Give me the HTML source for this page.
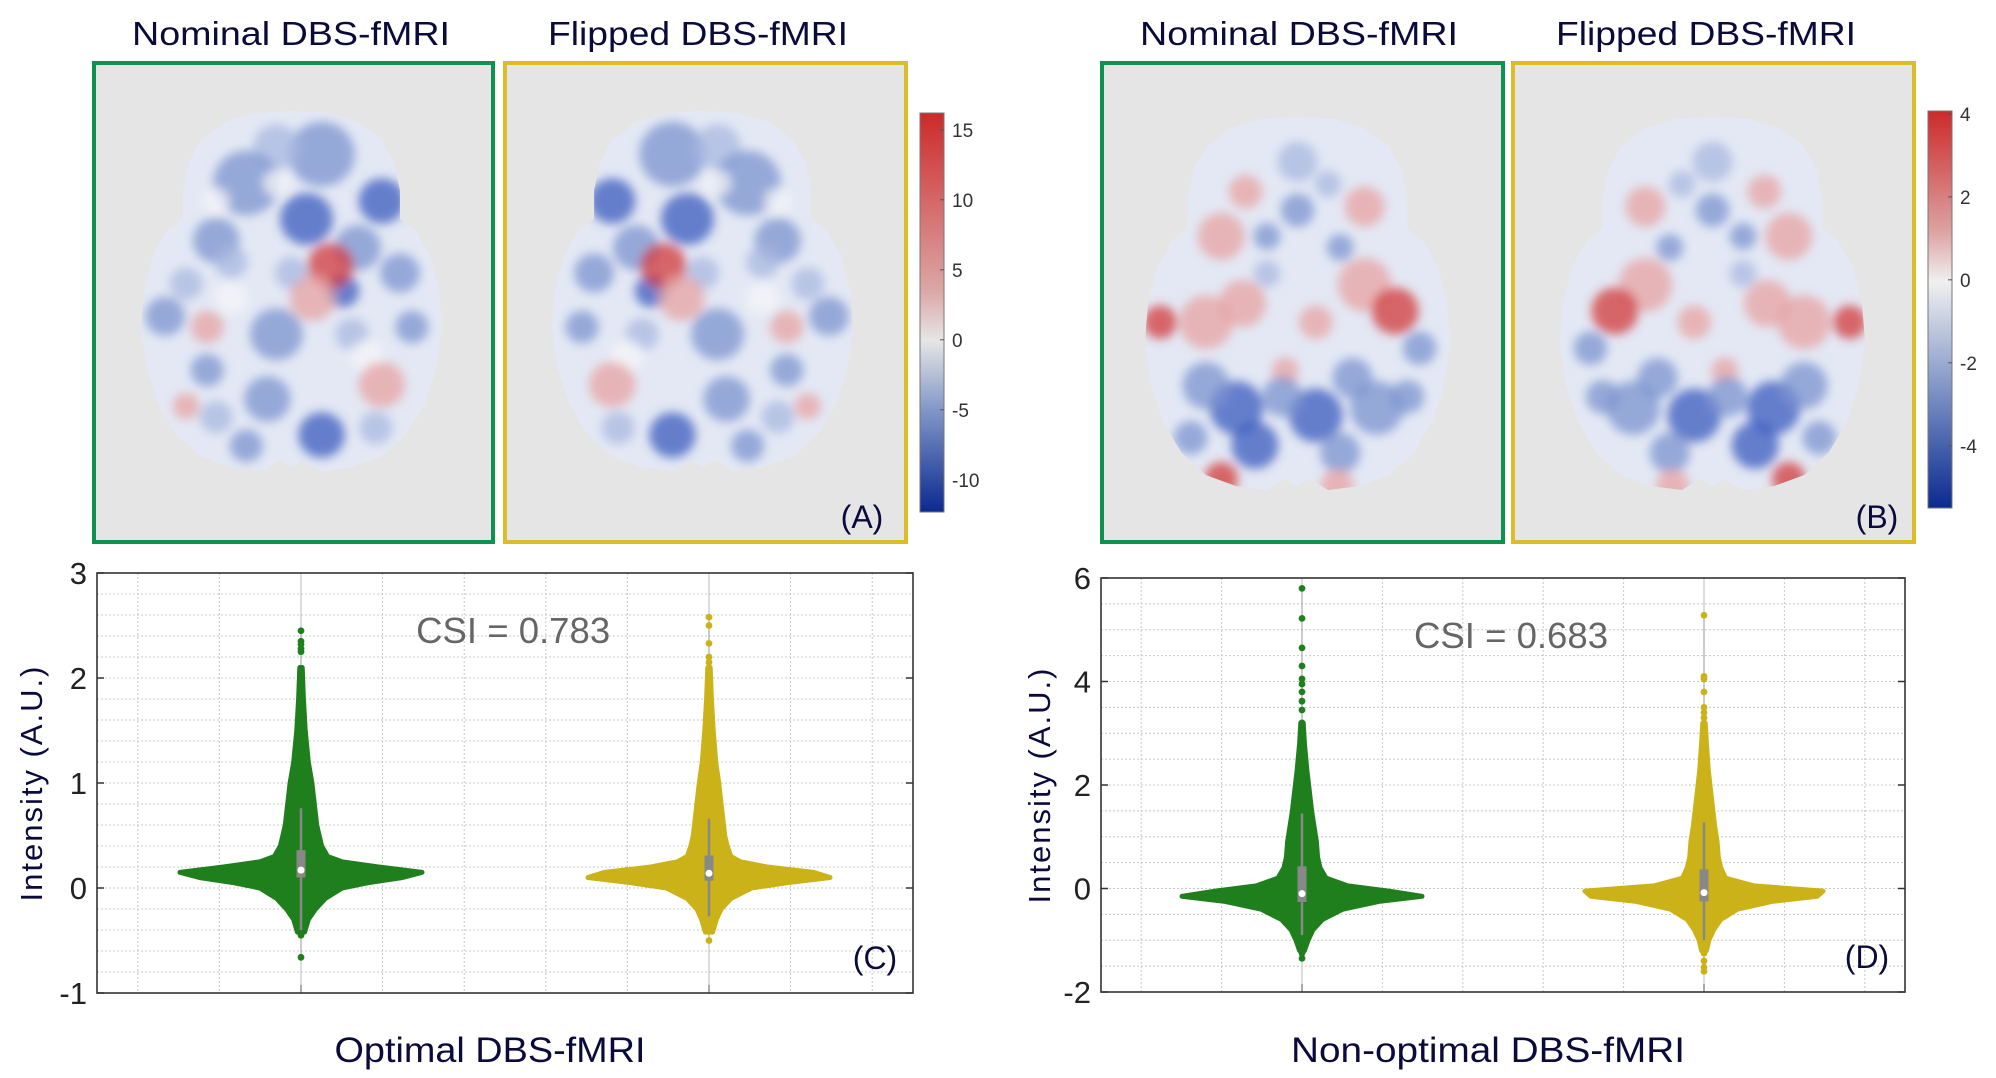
<!DOCTYPE html>
<html><head><meta charset="utf-8"><style>
html,body{margin:0;padding:0;background:#fff;}
svg{display:block;font-family:"Liberation Sans",sans-serif;}
</style></head><body>
<svg id="root" width="1996" height="1078" viewBox="0 0 1996 1078">
<defs>
<filter id="blur" x="-50%" y="-50%" width="200%" height="200%"><feGaussianBlur stdDeviation="5"/></filter>
<linearGradient id="cmapA" x1="0" y1="0" x2="0" y2="1">
<stop offset="0" stop-color="#cc2a2a"/><stop offset="0.45" stop-color="#dca8a8"/><stop offset="0.57" stop-color="#e6e6e6"/><stop offset="0.75" stop-color="#7f94c6"/><stop offset="1" stop-color="#0a2a8f"/></linearGradient>
<linearGradient id="cmapB" x1="0" y1="0" x2="0" y2="1">
<stop offset="0" stop-color="#cc2a2a"/><stop offset="0.3" stop-color="#dca0a0"/><stop offset="0.43" stop-color="#f0f0f0"/><stop offset="0.7" stop-color="#7f94c6"/><stop offset="1" stop-color="#0a2a8f"/></linearGradient>
</defs>
<g id="titles" fill="#0b0b3b" font-size="33" text-anchor="middle">
<text x="291" y="45" textLength="318" lengthAdjust="spacingAndGlyphs">Nominal DBS-fMRI</text>
<text x="698" y="45" textLength="300" lengthAdjust="spacingAndGlyphs">Flipped DBS-fMRI</text>
<text x="1299" y="45" textLength="318" lengthAdjust="spacingAndGlyphs">Nominal DBS-fMRI</text>
<text x="1706" y="45" textLength="300" lengthAdjust="spacingAndGlyphs">Flipped DBS-fMRI</text>
</g>
<g id="maps"></g>
<g id="chartC"></g>
<g id="chartD"></g>
</svg>
<script>
// ---------- chart data ----------
const categories = ["Nominal DBS-fMRI", "Flipped DBS-fMRI"];
const ticksC = [3, 2, 1, 0, -1];
const ticksD = [6, 4, 2, 0, -2];
// violin profiles: values and relative half-widths
const profYC = [-0.42,-0.3,-0.2,-0.1,0,0.05,0.1,0.15,0.2,0.25,0.3,0.4,0.5,0.6,0.8,1.0,1.2,1.5,1.8,2.1];
const profWCg = [0.03,0.06,0.12,0.2,0.34,0.55,0.84,1.0,0.64,0.34,0.22,0.17,0.15,0.13,0.11,0.09,0.06,0.035,0.02,0.01];
const profWCy = [0.03,0.06,0.1,0.18,0.35,0.64,1.0,0.86,0.48,0.26,0.18,0.15,0.13,0.12,0.1,0.08,0.055,0.035,0.02,0.01];
const profYD = [-1.2,-1.0,-0.8,-0.6,-0.4,-0.25,-0.15,-0.05,0.05,0.2,0.4,0.6,0.9,1.2,1.5,1.9,2.3,2.8,3.2];
const profWDg = [0.02,0.05,0.09,0.17,0.34,0.64,1.0,0.72,0.38,0.2,0.15,0.13,0.12,0.1,0.08,0.06,0.04,0.02,0.01];
const profWDy = [0.02,0.04,0.08,0.14,0.28,0.57,0.95,1.0,0.42,0.18,0.14,0.12,0.11,0.09,0.075,0.055,0.035,0.02,0.01];
// outlier points
const ptsCg = [2.45,2.35,2.32,2.28,2.25,2.05,1.97,1.92,1.85,1.78,1.72,1.65,1.58,1.52,1.45,1.38,1.32,-0.4,-0.45,-0.66];
const ptsCy = [2.58,2.5,2.33,2.2,2.15,2.1,2.0,1.9,1.85,1.8,1.72,1.62,1.55,1.48,1.4,1.33,-0.32,-0.38,-0.5];
const ptsDg = [5.8,5.22,4.65,4.3,4.05,3.95,3.8,3.62,3.45,3.2,3.05,2.95,2.85,2.7,2.6,2.5,2.4,-1.0,-1.15,-1.25,-1.35];
const ptsDy = [5.28,4.1,4.05,3.8,3.5,3.4,3.3,3.2,3.1,2.95,2.8,2.7,2.6,-1.1,-1.25,-1.4,-1.52,-1.6];
// box stats [whiskerLo, q1, median, q3, whiskerHi]
const boxCg = [-0.4,0.1,0.17,0.36,0.76];
const boxCy = [-0.27,0.07,0.14,0.31,0.66];
const boxDg = [-0.9,-0.26,-0.1,0.43,1.45];
const boxDy = [-1.0,-0.25,-0.08,0.37,1.28];
const csiValues = ["0.783", "0.683"];
const cbTicksA = [15,10,5,0,-5,-10];
const cbTicksB = [4,2,0,-2,-4];

const NS = "http://www.w3.org/2000/svg";
function mk(parent, tag, attrs, text){
  const e = document.createElementNS(NS, tag);
  for (const k in attrs) e.setAttribute(k, attrs[k]);
  if (text !== undefined) e.textContent = text;
  parent.appendChild(e);
  return e;
}

// ---------- brain maps ----------
const brainOutline = [[0.5,0],[0.62,0.005],[0.72,0.03],[0.8,0.08],[0.84,0.14],[0.86,0.22],[0.86,0.3],[0.91,0.33],[0.96,0.4],[0.99,0.5],[1,0.6],[0.98,0.72],[0.94,0.82],[0.88,0.9],[0.8,0.96],[0.7,0.99],[0.6,1],[0.54,0.97],[0.5,0.99],[0.46,0.97],[0.4,1],[0.3,0.99],[0.2,0.96],[0.12,0.9],[0.06,0.82],[0.02,0.72],[0,0.6],[0.01,0.5],[0.04,0.4],[0.09,0.33],[0.14,0.3],[0.14,0.22],[0.16,0.14],[0.2,0.08],[0.28,0.03],[0.38,0.005]];
const B1="#3a5cbf",B2="#7b93cf",B3="#aab8e0",R1="#d23a3a",R2="#e7a3a3",W="#f6f6f8";
const blobsA = [[0.6,0.12,0.1,B2],[0.45,0.1,0.07,B3],[0.8,0.25,0.07,B1],[0.35,0.2,0.1,B2],[0.55,0.3,0.08,B1],[0.25,0.36,0.07,B2],[0.72,0.38,0.07,B2],[0.45,0.62,0.08,B2],[0.67,0.5,0.05,B1],[0.86,0.45,0.06,B2],[0.08,0.57,0.06,B2],[0.42,0.8,0.07,B2],[0.6,0.9,0.07,B1],[0.35,0.93,0.05,B2],[0.9,0.6,0.05,B2],[0.22,0.72,0.05,B2],[0.3,0.42,0.05,B3],[0.5,0.45,0.05,B3],[0.7,0.62,0.05,B3],[0.15,0.48,0.05,B3],[0.78,0.88,0.05,B3],[0.25,0.85,0.05,B3],[0.45,0.2,0.04,W],[0.25,0.25,0.04,W],[0.3,0.52,0.05,W],[0.75,0.68,0.05,W],[0.63,0.43,0.07,R1],[0.57,0.52,0.07,R2],[0.22,0.6,0.05,R2],[0.8,0.76,0.07,R2],[0.15,0.82,0.04,R2]];
const blobsB = [[0.25,0.32,0.07,R2],[0.72,0.24,0.06,R2],[0.2,0.55,0.08,R2],[0.05,0.55,0.05,R1],[0.32,0.5,0.07,R2],[0.72,0.45,0.08,R2],[0.82,0.52,0.07,R1],[0.56,0.55,0.05,R2],[0.33,0.2,0.05,R2],[0.46,0.68,0.04,R2],[0.5,0.25,0.05,B2],[0.4,0.32,0.04,B2],[0.64,0.35,0.04,B2],[0.9,0.62,0.05,B2],[0.3,0.78,0.08,B1],[0.56,0.8,0.08,B1],[0.76,0.78,0.08,B2],[0.2,0.72,0.07,B2],[0.36,0.88,0.07,B1],[0.64,0.9,0.06,B2],[0.15,0.86,0.05,B2],[0.86,0.75,0.05,B2],[0.45,0.75,0.06,B2],[0.68,0.7,0.06,B2],[0.25,0.97,0.05,R1],[0.63,0.99,0.05,R2],[0.5,0.12,0.06,B3],[0.6,0.18,0.04,B3],[0.4,0.42,0.04,B3]];

const maps = document.getElementById("maps");
let clipId = 0;
function drawPanel(x, y, w, h, color, bx, by, bw, bh, blobs, mirror, nm){
  const g = mk(maps, "g", {});
  
  
  const frame = mk(g, "rect", {x:x, y:y, width:w, height:h, fill:"#e5e5e5", stroke:color, "stroke-width":4});
  
  
  const pts = brainOutline.map(p => ((bx + (mirror ? 1-p[0] : p[0])*bw).toFixed(1)) + "," + (by + p[1]*bh).toFixed(1)).join(" ");
  const id = "clip" + (clipId++);
  const cp = mk(document.querySelector("defs"), "clipPath", {id:id});
  mk(cp, "polygon", {points:pts});
  const brain = mk(g, "g", {"clip-path":"url(#"+id+")"});
  
  
  mk(brain, "polygon", {points:pts, fill:"#e3e8f4"});
  const bl = mk(brain, "g", {filter:"url(#blur)"});
  blobs.forEach(b => {
    const cx = bx + (mirror ? 1-b[0] : b[0])*bw, cy = by + b[1]*bh;
    mk(bl, "ellipse", {cx:cx, cy:cy, rx:b[2]*bw*1.1, ry:b[2]*bh*0.9, fill:b[3], opacity:0.75});
  });
}
drawPanel(94,63,399,479,"#0f9150",141,111,301,360,blobsA,false,"map-a-nominal");
drawPanel(505,63,401,479,"#dcbd27",552,111,301,360,blobsA,true,"map-a-flipped");
drawPanel(1102,63,401,479,"#0f9150",1145,117,305,373,blobsB,false,"map-b-nominal");
drawPanel(1513,63,401,479,"#dcbd27",1560,117,305,373,blobsB,true,"map-b-flipped");

function colorbar(x, y0, y1, grad, ticks, vTop, vBot, nm){
  const g = mk(maps, "g", {});
  
  
  mk(g, "rect", {x:x, y:y0, width:24, height:y1-y0, fill:"url(#"+grad+")", stroke:"#777", "stroke-width":1});
  ticks.forEach(t => {
    const ty = y0 + (vTop - t)/(vTop - vBot)*(y1-y0);
    mk(g, "line", {x1:x+20, x2:x+24, y1:ty, y2:ty, stroke:"#555"});
    const lb = mk(g, "text", {x:x+32, y:ty+7, "font-size":19, fill:"#333"}, String(t));
    
    
  });
}
colorbar(920,113,512,"cmapA",cbTicksA,16.2,-12.3,"colorbar-a");
colorbar(1928,111,508,"cmapB",cbTicksB,4.07,-5.5,"colorbar-b");

const la = mk(maps,"text",{x:862,y:528,"font-size":32,fill:"#0b0b3b","text-anchor":"middle"},"(A)");


const lbB = mk(maps,"text",{x:1877,y:528,"font-size":32,fill:"#0b0b3b","text-anchor":"middle"},"(B)");



// ---------- violin charts ----------
function chart(gid, px0, px1, py0, py1, vTop, vBot, ticks, minor, cats, violins, csi, letter, xlabel, ylx, xlw){
  const g = document.getElementById(gid);
  
  
  const ys = v => py0 + (vTop - v)/(vTop - vBot)*(py1-py0);
  const pw = px1 - px0;
  const xs = i => px0 + (i + 0.5)*pw/10;
  mk(g, "rect", {x:px0, y:py0, width:pw, height:py1-py0, fill:"#fff"});
  for (let i = 0; i < 10; i++){
    mk(g, "line", {x1:xs(i), x2:xs(i), y1:py0, y2:py1, stroke:"#c8c8c8", "stroke-dasharray":"2,2"});
  }
  for (let v = vBot; v <= vTop + 1e-9; v += minor){
    mk(g, "line", {x1:px0, x2:px1, y1:ys(v), y2:ys(v), stroke:"#c8c8c8", "stroke-dasharray":"2,2"});
  }
  ticks.forEach(t => {
    const ty = ys(t);
    mk(g, "line", {x1:px0, x2:px0+7, y1:ty, y2:ty, stroke:"#333", "stroke-width":1.5});
    mk(g, "line", {x1:px1-7, x2:px1, y1:ty, y2:ty, stroke:"#333", "stroke-width":1.5});
    const tl = mk(g, "text", {x:px0-10, y:ty+11, "font-size":31, fill:"#222", "text-anchor":"end"}, String(t));
    
    
  });
  violins.forEach((vd, i) => {
    const cx = xs(cats[i]);
    mk(g, "line", {x1:cx, x2:cx, y1:py1-8, y2:py1, stroke:"#333", "stroke-width":1.5});
    mk(g, "line", {x1:cx, x2:cx, y1:py0, y2:py1, stroke:"#bbb", "stroke-width":1});
    const vg = mk(g, "g", {});
    
    
    mk(vg, "line", {x1:cx, x2:cx, y1:ys(vd.pts.reduce((a,b)=>Math.min(a,b))), y2:ys(vd.pts.reduce((a,b)=>Math.max(a,b))), stroke:"#999", "stroke-width":1});
    const right = vd.py.map((y, k) => (cx + vd.pw[k]*vd.maxW).toFixed(1) + "," + ys(y).toFixed(1));
    const left = vd.py.map((y, k) => (cx - vd.pw[k]*vd.maxW).toFixed(1) + "," + ys(y).toFixed(1)).reverse();
    const body = mk(vg, "polygon", {points:right.concat(left).join(" "), fill:vd.color, stroke:vd.color, "stroke-width":5, "stroke-linejoin":"round"});
    
    
    vd.pts.forEach(p => {
      const c = mk(vg, "circle", {cx:cx, cy:ys(p), r:3.4, fill:vd.color});
      
      
    });
    const b = vd.box;
    mk(vg, "line", {x1:cx, x2:cx, y1:ys(b[0]), y2:ys(b[4]), stroke:"#888", "stroke-width":2.5});
    const bx = mk(vg, "rect", {x:cx-4.5, y:ys(b[3]), width:9, height:ys(b[1])-ys(b[3]), fill:"#888"});
    
    
    const md = mk(vg, "circle", {cx:cx, cy:ys(b[2]), r:3.5, fill:"#fff"});
    
    
  });
  mk(g, "rect", {x:px0, y:py0, width:pw, height:py1-py0, fill:"none", stroke:"#333", "stroke-width":1.6});
  const cs = mk(g, "text", {x:px0 + pw*0.51, y:py0+70, "font-size":36, fill:"#666", "text-anchor":"middle", textLength:194, lengthAdjust:"spacingAndGlyphs"}, "CSI = " + csi);
  
  
  const pl = mk(g, "text", {x:px1-38, y:py1-24, "font-size":32, fill:"#0b0b3b", "text-anchor":"middle"}, "(" + letter + ")");
  
  
  const xl = mk(g, "text", {x:(px0+px1)/2 - 15, y:1062, "font-size":35, fill:"#0b0b3b", "text-anchor":"middle", textLength:xlw, lengthAdjust:"spacingAndGlyphs"}, xlabel);
  
  
  const cyl = (py0+py1)/2;
  const yl = mk(g, "text", {x:ylx, y:cyl, "font-size":31, fill:"#0b0b3b", "text-anchor":"middle", "letter-spacing":"2", transform:"rotate(-90 "+ylx+" "+cyl+")"}, "Intensity (A.U.)");
  
  
}
chart("chartC", 97, 913, 573, 993, 3, -1, ticksC, 0.2, [2,7], [
  {py:profYC, pw:profWCg, maxW:121, color:"#1e7f1c", pts:ptsCg, box:boxCg},
  {py:profYC, pw:profWCy, maxW:121, color:"#cbb218", pts:ptsCy, box:boxCy}
], csiValues[0], "C", "Optimal DBS-fMRI", 42, 311);
chart("chartD", 1101, 1905, 578, 992, 6, -2, ticksD, 0.5, [2,7], [
  {py:profYD, pw:profWDg, maxW:120, color:"#1e7f1c", pts:ptsDg, box:boxDg},
  {py:profYD, pw:profWDy, maxW:119, color:"#cbb218", pts:ptsDy, box:boxDy}
], csiValues[1], "D", "Non-optimal DBS-fMRI", 1050, 394);
</script>
</body></html>
